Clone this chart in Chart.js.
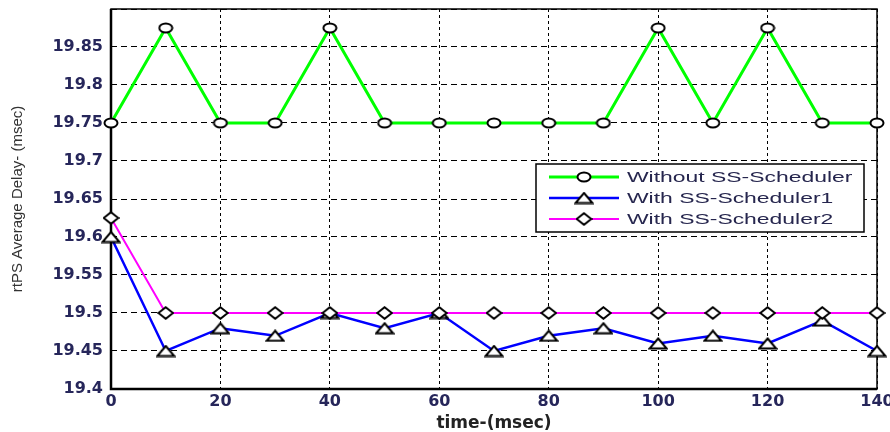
<!DOCTYPE html>
<html>
<head>
<meta charset="utf-8">
<script src="https://cdn.jsdelivr.net/npm/chart.js@4.4.1/dist/chart.umd.min.js"></script>
<style>
  html, body { margin: 0; padding: 0; background: #fff; }
  #wrap { width: 890px; height: 432px; }
</style>
</head>
<body>
<div id="wrap"><canvas id="chart"></canvas></div>
<script>
// time axis (msec)
const times = [0, 10, 20, 30, 40, 50, 60, 70, 80, 90, 100, 110, 120, 130, 140];

// rtPS average delay (msec)
const withoutScheduler = [19.75, 19.875, 19.75, 19.75, 19.875, 19.75, 19.75, 19.75, 19.75, 19.75, 19.875, 19.75, 19.875, 19.75, 19.75];
const withScheduler1 = [19.6, 19.45, 19.48, 19.47, 19.5, 19.48, 19.5, 19.45, 19.47, 19.48, 19.46, 19.47, 19.46, 19.49, 19.45];
const withScheduler2 = [19.625, 19.5, 19.5, 19.5, 19.5, 19.5, 19.5, 19.5, 19.5, 19.5, 19.5, 19.5, 19.5, 19.5, 19.5];

const seriesNames = ['Without SS-Scheduler', 'With SS-Scheduler1', 'With SS-Scheduler2'];

const yMin = 19.4, yMax = 19.9, yStep = 0.05;
const xMin = 0, xMax = 140, xStep = 20;

// markers (the figure is stretched sideways, so markers are wider than tall)
function makeMarker(kind) {
    const c = document.createElement('canvas');
    const dims = { ellipse: [16, 12], triangle: [20, 13], diamond: [17, 14] }[kind];
    c.width = dims[0];
    c.height = dims[1];
    const g = c.getContext('2d');
    g.fillStyle = '#fff';
    g.strokeStyle = '#000';
    g.lineWidth = 2;
    g.beginPath();
    if (kind === 'ellipse') {
        g.ellipse(8, 6, 6.5, 4.6, 0, 0, Math.PI * 2);
    } else if (kind === 'triangle') {
        g.moveTo(10, 1.5);
        g.lineTo(18.5, 11.5);
        g.lineTo(1.5, 11.5);
        g.closePath();
    } else {
        g.moveTo(8.5, 1.2);
        g.lineTo(15.8, 7);
        g.lineTo(8.5, 12.8);
        g.lineTo(1.2, 7);
        g.closePath();
    }
    g.fill();
    g.stroke();
    return c;
}

const markers = [makeMarker('ellipse'), makeMarker('triangle'), makeMarker('diamond')];
const lineColors = ['#00ff00', '#0000ff', '#ff00ff'];
const lineWidths = [3, 2.5, 2];

const toPoints = vals => vals.map((v, i) => ({ x: times[i], y: v }));

const boxPlugin = {
    id: 'box',
    beforeDatasetsDraw(chart) {
        const a = chart.chartArea;
        const ctx = chart.ctx;
        ctx.save();
        ctx.strokeStyle = '#000';
        ctx.lineWidth = 1.5;
        ctx.strokeRect(a.left, a.top, a.right - a.left, a.bottom - a.top);
        ctx.lineWidth = 2.5;
        ctx.beginPath();
        ctx.moveTo(a.left, a.top);
        ctx.lineTo(a.left, a.bottom);
        ctx.lineTo(a.right, a.bottom);
        ctx.stroke();
        ctx.restore();
    }
};

const legendPlugin = {
    id: 'matlabLegend',
    afterDatasetsDraw(chart) {
        const a = chart.chartArea;
        const ctx = chart.ctx;
        const left = a.right - 341, top = a.top + 155;
        const w = 328, h = 68;
        ctx.save();
        ctx.fillStyle = '#fff';
        ctx.fillRect(left, top, w, h);
        ctx.strokeStyle = '#000';
        ctx.lineWidth = 1.5;
        ctx.strokeRect(left, top, w, h);
        seriesNames.forEach((name, i) => {
            const y = top + 13 + i * 21;
            ctx.strokeStyle = lineColors[i];
            ctx.lineWidth = lineWidths[i];
            ctx.beginPath();
            ctx.moveTo(left + 13, y);
            ctx.lineTo(left + 83, y);
            ctx.stroke();
            const m = markers[i];
            ctx.drawImage(m, left + 48 - m.width / 2, y - m.height / 2);
            ctx.save();
            ctx.translate(left + 91, y + 1);
            ctx.scale(1.58, 1);
            ctx.fillStyle = '#26264e';
            ctx.font = '14.5px "Liberation Sans", Arial, sans-serif';
            ctx.textBaseline = 'middle';
            ctx.fillText(name, 0, 0);
            ctx.restore();
        });
        ctx.restore();
    }
};

new Chart(document.getElementById('chart'), {
    type: 'line',
    data: {
        datasets: [withoutScheduler, withScheduler1, withScheduler2].map((vals, i) => ({
            label: seriesNames[i],
            data: toPoints(vals),
            borderColor: lineColors[i],
            borderWidth: lineWidths[i],
            pointStyle: markers[i],
            pointRadius: 6,
            pointHoverRadius: 6,
            tension: 0,
            clip: false,
            order: 3 - i
        }))
    },
    options: {
        responsive: true,
        maintainAspectRatio: false,
        animation: false,
        layout: { padding: { top: 9, right: 13, left: 0, bottom: 0 } },
        plugins: {
            legend: { display: false },
            tooltip: { enabled: false }
        },
        scales: {
            x: {
                type: 'linear',
                min: xMin,
                max: xMax,
                afterFit: s => {
                    s.height = 43;
                    s.paddingLeft = 0;
                    s.paddingRight = 0;
                },
                ticks: {
                    stepSize: xStep,
                    padding: 3,
                    color: '#26265a',
                    font: { family: '"DejaVu Sans"', size: 16, weight: 'bold' }
                },
                grid: { color: '#000', lineWidth: 1, drawTicks: false },
                border: { display: false, dash: [3, 3] },
                title: {
                    display: true,
                    text: 'time-(msec)',
                    color: '#222',
                    padding: 0,
                    font: { family: '"DejaVu Sans"', size: 17, weight: 'bold', lineHeight: 1 }
                }
            },
            y: {
                min: yMin,
                max: yMax,
                afterFit: s => {
                    s.width = 111;
                    s.paddingTop = 0;
                    s.paddingBottom = 0;
                },
                ticks: {
                    stepSize: yStep,
                    padding: 8,
                    color: '#26265a',
                    font: { family: '"DejaVu Sans"', size: 16, weight: 'bold' },
                    callback: v => Math.abs(v - yMax) < 1e-6 ? '' : String(Number(v.toFixed(2)))
                },
                grid: { color: '#000', lineWidth: 1, drawTicks: false },
                border: { display: false, dash: [6, 4] },
                title: {
                    display: true,
                    text: 'rtPS Average Delay- (msec)',
                    color: '#333',
                    padding: { top: 9, bottom: 0 },
                    font: { family: '"Liberation Sans", Arial, sans-serif', size: 15 }
                }
            }
        }
    },
    plugins: [boxPlugin, legendPlugin]
});
</script>
</body>
</html>
